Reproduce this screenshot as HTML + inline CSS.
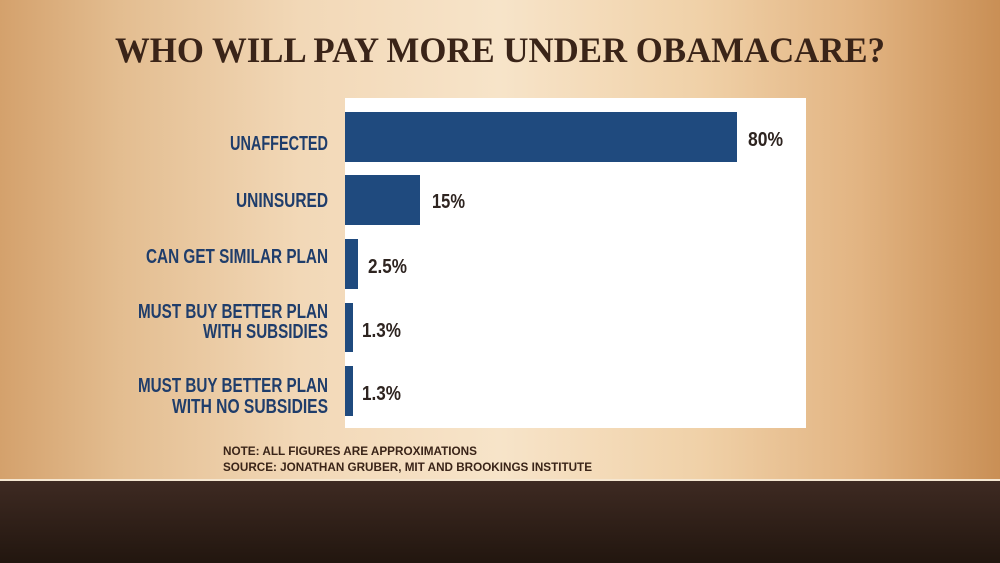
<!DOCTYPE html>
<html><head><meta charset="utf-8"><style>
html,body{margin:0;padding:0;width:1000px;height:563px;overflow:hidden}
</style></head><body>
<svg width="1000" height="563" viewBox="0 0 1000 563" xmlns="http://www.w3.org/2000/svg">
<defs>
<linearGradient id="bg" x1="0" x2="1" y1="0" y2="0">
<stop offset="0" stop-color="#d4a16c"/>
<stop offset="0.12" stop-color="#e3bd90"/>
<stop offset="0.3" stop-color="#f2d8b7"/>
<stop offset="0.5" stop-color="#f7e4c9"/>
<stop offset="0.7" stop-color="#f0d1a8"/>
<stop offset="0.86" stop-color="#e2b482"/>
<stop offset="1" stop-color="#c98f55"/>
</linearGradient>
<linearGradient id="bt" x1="0" x2="0" y1="0" y2="1">
<stop offset="0" stop-color="#3e2a22"/>
<stop offset="1" stop-color="#22160f"/>
</linearGradient>
</defs>
<rect width="1000" height="481" fill="url(#bg)"/>
<rect y="481" width="1000" height="82" fill="url(#bt)"/>
<rect y="479" width="1000" height="2" fill="#f5e6d0"/>
<text x="115" y="62" textLength="770" lengthAdjust="spacingAndGlyphs" font-family="Liberation Serif, serif" font-weight="bold" font-size="36" fill="#3a2418">WHO WILL PAY MORE UNDER OBAMACARE?</text>
<rect x="345" y="98" width="461" height="330" fill="#ffffff"/>
<g fill="#1f4a7e">
<rect x="345" y="112" width="392" height="50"/>
<rect x="345" y="175" width="75" height="50"/>
<rect x="345" y="239" width="13" height="50"/>
<rect x="345" y="303" width="8" height="49"/>
<rect x="345" y="366" width="8" height="50"/>
</g>
<g font-family="Liberation Sans, sans-serif" font-weight="bold" font-size="20" fill="#1f3d6b">
<text x="230" y="150" textLength="98" lengthAdjust="spacingAndGlyphs">UNAFFECTED</text>
<text x="236" y="207" textLength="92" lengthAdjust="spacingAndGlyphs">UNINSURED</text>
<text x="146" y="263" textLength="182" lengthAdjust="spacingAndGlyphs">CAN GET SIMILAR PLAN</text>
<text x="138" y="318" textLength="190" lengthAdjust="spacingAndGlyphs">MUST BUY BETTER PLAN</text>
<text x="203" y="338" textLength="125" lengthAdjust="spacingAndGlyphs">WITH SUBSIDIES</text>
<text x="138" y="392" textLength="190" lengthAdjust="spacingAndGlyphs">MUST BUY BETTER PLAN</text>
<text x="172" y="413" textLength="156" lengthAdjust="spacingAndGlyphs">WITH NO SUBSIDIES</text>
</g>
<g font-family="Liberation Sans, sans-serif" font-weight="bold" font-size="20" fill="#2e2420">
<text x="748" y="146" textLength="35" lengthAdjust="spacingAndGlyphs">80%</text>
<text x="432" y="208" textLength="33" lengthAdjust="spacingAndGlyphs">15%</text>
<text x="368" y="273" textLength="39" lengthAdjust="spacingAndGlyphs">2.5%</text>
<text x="362" y="337" textLength="39" lengthAdjust="spacingAndGlyphs">1.3%</text>
<text x="362" y="400" textLength="39" lengthAdjust="spacingAndGlyphs">1.3%</text>
</g>
<g font-family="Liberation Sans, sans-serif" font-weight="bold" font-size="12" fill="#3a2418">
<text x="223" y="455" textLength="254" lengthAdjust="spacingAndGlyphs">NOTE: ALL FIGURES ARE APPROXIMATIONS</text>
<text x="223" y="471" textLength="369" lengthAdjust="spacingAndGlyphs">SOURCE: JONATHAN GRUBER, MIT AND BROOKINGS INSTITUTE</text>
</g>
</svg>
</body></html>
